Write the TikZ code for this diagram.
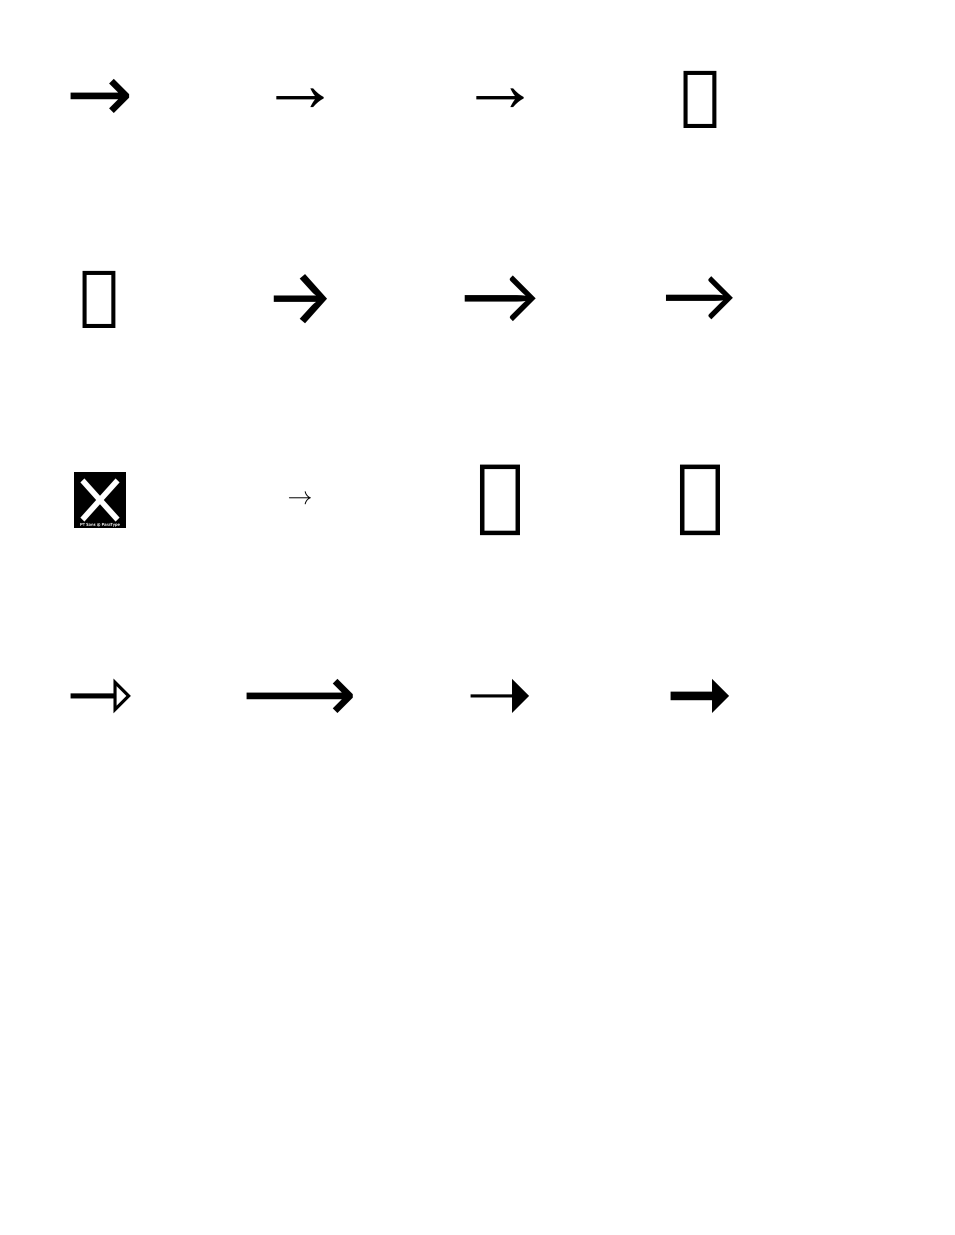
\documentclass[tikz,border=0pt]{standalone}
\usepackage{fontspec}
\newfontfamily\fa{DejaVu Sans}
\newfontfamily\fb{Liberation Sans}
\newfontfamily\fc{Liberation Serif}
\newfontfamily\fd{Noto Sans}
\newfontfamily\fe{Open Sans}
\newfontfamily\ff{Fira Sans}
\newfontfamily\fg{Lato}
\newfontfamily\fh{Carlito}
\newfontfamily\fptsans{PT Sans}
\begin{document}
\begin{tikzpicture}[x=1pt,y=-1pt]
\useasboundingbox[fill=white] (0,0) rectangle (954,1235);
\node[font=\fontsize{80}{90}\selectfont] (a) at (100,100) {\fa →};
\node[font=\fontsize{80}{90}\selectfont] (b) at (300,100) {\fb →};
\node[font=\fontsize{80}{90}\selectfont] (c) at (500,100) {\fc →};
\node[font=\fontsize{80}{90}\selectfont] (d) at (700,100) {\fd →};
\node[font=\fontsize{80}{90}\selectfont] (e) at (100,300) {\fe →};
\node[font=\fontsize{80}{90}\selectfont] (f) at (300,300) {\ff →};
\node[font=\fontsize{80}{90}\selectfont] (g) at (500,300) {\fg →};
\node[font=\fontsize{80}{90}\selectfont] (h) at (700,300) {\fh →};
\node[font=\fontsize{80}{90}\selectfont] (i) at (100,500) {\fptsans →};
\node[font=\fontsize{80}{90}\selectfont] (j) at (300,500) {$\rightarrow$};
\node[font=\fontsize{80}{90}\selectfont] (k) at (500,500) {\fa ⭢};
\node[font=\fontsize{80}{90}\selectfont] (l) at (700,500) {\fa 🡒};
\node[font=\fontsize{80}{90}\selectfont] (m) at (100,700) {\fa ⇾};
\node[font=\fontsize{80}{90}\selectfont] (n) at (300,700) {\fa ⟶};
\node[font=\fontsize{80}{90}\selectfont] (o) at (500,700) {\fa ➝};
\node[font=\fontsize{80}{90}\selectfont] (p) at (700,700) {\fa ➞};
\end{tikzpicture}
\end{document}
